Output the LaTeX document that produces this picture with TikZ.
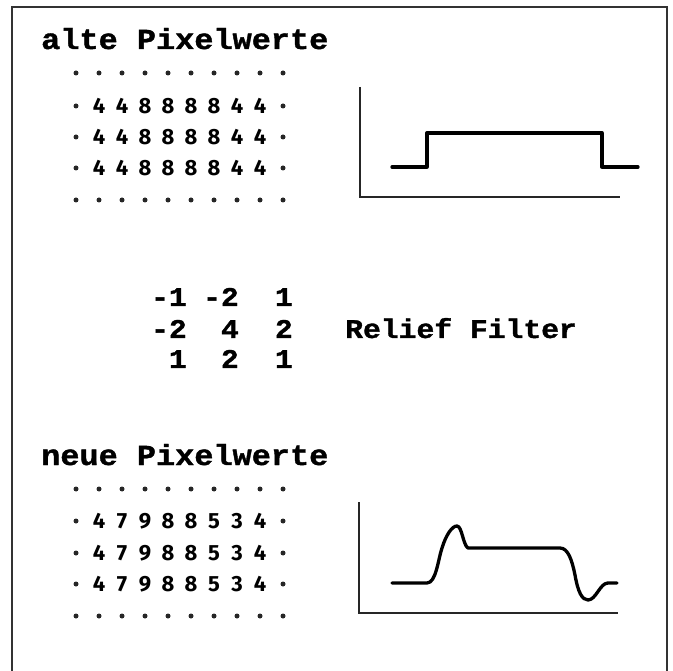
\documentclass[tikz,border=0pt]{standalone}
\usepackage{fontspec}
\newfontfamily\courfont[FakeStretch=1.1, BoldFeatures={FakeBold=1.3}]{Liberation Mono}
\newfontfamily\digfont{Fira Sans}
\usetikzlibrary{positioning}

\begin{document}
\begin{tikzpicture}[
        x=1pt,
        y=-1pt,
        headline/.style={font=\courfont\bfseries\fontsize{29}{29}\selectfont, anchor=base west, inner sep=0pt},
        filterval/.style={font=\courfont\bfseries\fontsize{27}{27}\selectfont, anchor=base east, inner sep=0pt},
        pixval/.style={font=\digfont\bfseries\fontsize{22}{22}\selectfont, inner sep=0pt},
        pixdot/.style={circle, fill=black!85, inner sep=0pt, minimum size=5pt},
        axis/.style={line width=1.8pt, black!85},
        curve/.style={line width=3.3pt, line join=round, line cap=round}
        ]
        \useasboundingbox (0,0) rectangle (673,671);

        % Rahmen
        \draw[line width=2pt, black!80] (12,671) -- (12,7) -- (667,7) -- (667,671);

        % alte Pixelwerte
        \node[headline] (alt) at (41,49) {alte Pixelwerte};
        \foreach \r/\y in {1/73,5/200} {
            \foreach \c in {1,...,10}
                \node[pixdot] (alt-\r-\c) at ({76+23*(\c-1)},\y) {};
        }
        \foreach \r/\y in {2/106,3/137,4/168} {
            \node[pixdot] (alt-\r-1) at (76,\y) {};
            \foreach \v [count=\c from 2] in {4,4,8,8,8,8,4,4}
                \node[pixval] (alt-\r-\c) at ({76+23*(\c-1)},\y) {\v};
            \node[pixdot] (alt-\r-10) at (283,\y) {};
        }

        % Stufe
        \draw[axis] (360,87) -- (360,197) -- (620,197);
        \draw[curve] (392,167) -- (427,167) -- (427,133) -- (602,133) -- (602,167) -- (638,167);

        % Filtermatrix
        \node[filterval] (k11) at (187,306) {-1};
        \node[filterval] (k12) at (239,306) {-2};
        \node[filterval] (k13) at (293,306) {1};
        \node[filterval] (k21) at (187,338) {-2};
        \node[filterval] (k22) at (239,338) {4};
        \node[filterval] (k23) at (293,338) {2};
        \node[filterval] (k31) at (187,368) {1};
        \node[filterval] (k32) at (239,368) {2};
        \node[filterval] (k33) at (293,368) {1};
        \node[filterval, anchor=base west] (relief) at (345,338) {Relief Filter};

        % neue Pixelwerte
        \node[headline] (neu) at (41,465) {neue Pixelwerte};
        \foreach \r/\y in {1/489,5/616} {
            \foreach \c in {1,...,10}
                \node[pixdot] (neu-\r-\c) at ({76+23*(\c-1)},\y) {};
        }
        \foreach \r/\y in {2/521,3/553,4/584} {
            \node[pixdot] (neu-\r-1) at (76,\y) {};
            \foreach \v [count=\c from 2] in {4,7,9,8,8,5,3,4}
                \node[pixval] (neu-\r-\c) at ({76+23*(\c-1)},\y) {\v};
            \node[pixdot] (neu-\r-10) at (283,\y) {};
        }

        % Relief
        \draw[axis] (359,502) -- (359,613) -- (618,613);
        \draw[curve] (392,583) -- (427,583)
            .. controls (436,583) and (438,560) .. (442,548)
            .. controls (446,535) and (452,526) .. (457,526)
            .. controls (462,526) and (463,545) .. (468,548)
            -- (560,548)
            .. controls (568,548) and (572,560) .. (575,575)
            .. controls (578,592) and (582,600) .. (588,600)
            .. controls (596,600) and (600,583) .. (608,583)
            -- (617,583);
\end{tikzpicture}
\end{document}
